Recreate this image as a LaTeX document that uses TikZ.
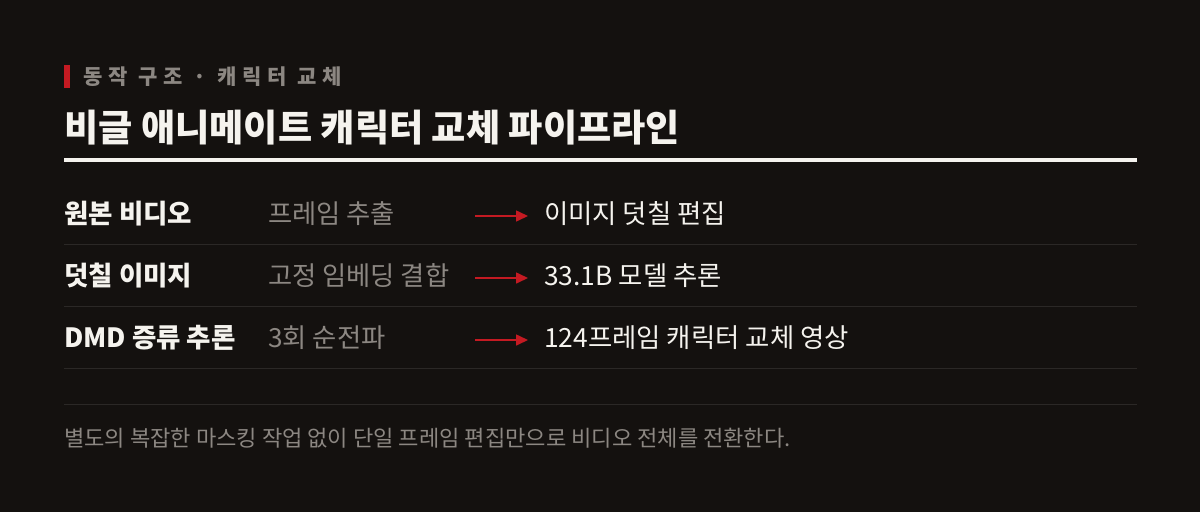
\documentclass[tikz,border=0pt]{standalone}
\usepackage{fontspec}
\usepackage{tikz}
\usetikzlibrary{arrows.meta}
\setmainfont{Noto Sans CJK KR}
\newfontfamily\kreye[LetterSpace=28]{Noto Sans CJK KR}
\definecolor{bgdark}{HTML}{14110F}
\definecolor{inkwhite}{HTML}{F5F3EE}
\definecolor{inkgray}{HTML}{8C8782}
\definecolor{rulegray}{HTML}{2B2826}
\definecolor{accentred}{HTML}{C41A22}
\tikzset{
  txt/.style={anchor=west, inner sep=0pt},
  rowhead/.style={txt, text=inkwhite, font=\fontsize{26.5}{30}\selectfont\bfseries},
  rowstep/.style={txt, text=inkgray, font=\fontsize{26.3}{30}\selectfont},
  rowout/.style={txt, text=inkwhite, font=\fontsize{26.4}{30}\selectfont},
  sepline/.style={rulegray, line width=1pt},
  redarrow/.style={accentred, line width=1.6pt, -{Triangle[length=12pt,width=11pt]}}
}
\begin{document}
\begin{tikzpicture}[x=1pt, y=-1pt]
			%%%%% START %%%%%
			
			\fill[bgdark] (0, 0) rectangle (1200, 512);
			\useasboundingbox (0, 0) rectangle (1200, 512);
			
			\fill[accentred] (64, 65) rectangle (70, 88);
			\node[txt, text=inkgray, font=\kreye\fontsize{21}{24}\selectfont\bfseries] (eyebrow) at (83, 76.5) {동작 구조 · 캐릭터 교체};
			
			\node[txt, text=inkwhite, font=\fontsize{37.2}{42}\selectfont\bfseries] (title) at (64, 128) {비글 애니메이트 캐릭터 교체 파이프라인};
			\fill[inkwhite] (64, 157.5) rectangle (1137, 161.5);
			
			\node[rowhead] (head1) at (64, 214) {원본 비디오};
			\node[rowstep] (step1) at (268, 214) {프레임 추출};
			\coordinate (from1) at (475, 216);
			\coordinate (to1) at (528, 216);
			\draw[redarrow] (from1) -- (to1);
			\node[rowout] (out1) at (544, 214) {이미지 덧칠 편집};
			\draw[sepline] (64, 244) -- (1137, 244);
			
			\node[rowhead] (head2) at (64, 276) {덧칠 이미지};
			\node[rowstep] (step2) at (268, 276) {고정 임베딩 결합};
			\coordinate (from2) at (475, 278);
			\coordinate (to2) at (528, 278);
			\draw[redarrow] (from2) -- (to2);
			\node[rowout] (out2) at (544, 276) {33.1B 모델 추론};
			\draw[sepline] (64, 306) -- (1137, 306);
			
			\node[rowhead] (head3) at (64, 338) {DMD 증류 추론};
			\node[rowstep] (step3) at (268, 338) {3회 순전파};
			\coordinate (from3) at (475, 340);
			\coordinate (to3) at (528, 340);
			\draw[redarrow] (from3) -- (to3);
			\node[rowout] (out3) at (544, 338) {124프레임 캐릭터 교체 영상};
			\draw[sepline] (64, 368) -- (1137, 368);
			
			\draw[sepline] (64, 404) -- (1137, 404);
			\node[txt, text=inkgray, font=\fontsize{22.1}{26}\selectfont] (footnote) at (64, 438) {별도의 복잡한 마스킹 작업 없이 단일 프레임 편집만으로 비디오 전체를 전환한다.};
			
			%%%%% END %%%%%
\end{tikzpicture}
\end{document}
